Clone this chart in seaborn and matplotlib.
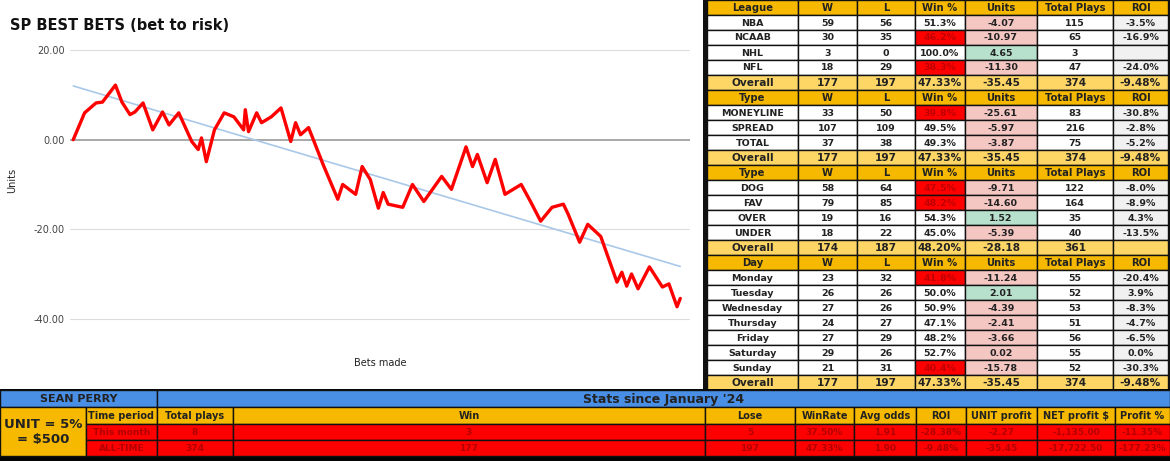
import numpy as np
import pandas as pd
import matplotlib
matplotlib.use("Agg")
import matplotlib.pyplot as plt
import seaborn as sns
from matplotlib.patches import Rectangle

sns.set_theme(style="white")
plt.rcParams['font.family'] = ['DejaVu Sans']

# ---- line data (cumulative units by bet number) ----
bet_idx = [0, 7, 14, 18, 26, 30, 35, 38, 43, 49, 55, 59, 65, 73, 77, 79, 82, 87, 93, 99, 105, 106, 108,
           113, 116, 122, 128, 134, 137, 140, 145, 154, 163, 166, 174, 178, 183, 188, 191, 194, 203, 209,
           216, 227, 233, 242, 246, 249, 255, 260, 266, 276, 282, 288, 295, 302, 305, 312, 317, 325, 335,
           338, 341, 344, 348, 355, 363, 367, 372, 374]
units = [0, 6.0, 8.2, 8.4, 12.2, 8.4, 5.6, 6.2, 8.2, 2.2, 6.2, 3.3, 6.0, -0.4, -2.2, 0.4, -4.9, 2.2, 6.0,
         5.1, 2.2, 6.7, 1.8, 6.0, 3.8, 5.1, 7.1, -0.4, 3.8, 1.1, 2.7, -5.6, -13.3, -10.0, -12.2, -6.0,
         -8.9, -15.3, -11.8, -14.4, -15.1, -10.0, -13.8, -8.2, -11.1, -1.6, -6.0, -3.3, -9.6, -4.4,
         -12.2, -10.0, -14.0, -18.2, -15.1, -14.4, -16.7, -22.9, -18.9, -21.6, -31.8, -29.6, -32.7,
         -30.0, -33.3, -28.4, -32.9, -32.2, -37.3, -35.45]
y_ticks = [20, 0, -20, -40]

# ---- right tables ----
col_hdr = ["W", "L", "Win %", "Units", "Total Plays", "ROI"]
sections = [
    ("League", ["NBA", "NCAAB", "NHL", "NFL"],
     [[59, 56, "51.3%", "-4.07", 115, "-3.5%"], [30, 35, "46.2%", "-10.97", 65, "-16.9%"],
      [3, 0, "100.0%", "4.65", 3, ""], [18, 29, "38.3%", "-11.30", 47, "-24.0%"]],
     [177, 197, "47.33%", "-35.45", 374, "-9.48%"], [False, True, False, True]),
    ("Type", ["MONEYLINE", "SPREAD", "TOTAL"],
     [[33, 50, "39.8%", "-25.61", 83, "-30.8%"], [107, 109, "49.5%", "-5.97", 216, "-2.8%"],
      [37, 38, "49.3%", "-3.87", 75, "-5.2%"]],
     [177, 197, "47.33%", "-35.45", 374, "-9.48%"], [True, False, False]),
    ("Type", ["DOG", "FAV", "OVER", "UNDER"],
     [[58, 64, "47.5%", "-9.71", 122, "-8.0%"], [79, 85, "48.2%", "-14.60", 164, "-8.9%"],
      [19, 16, "54.3%", "1.52", 35, "4.3%"], [18, 22, "45.0%", "-5.39", 40, "-13.5%"]],
     [174, 187, "48.20%", "-28.18", 361, ""], [True, True, False, False]),
    ("Day", ["Monday", "Tuesday", "Wednesday", "Thursday", "Friday", "Saturday", "Sunday"],
     [[23, 32, "41.8%", "-11.24", 55, "-20.4%"], [26, 26, "50.0%", "2.01", 52, "3.9%"],
      [27, 26, "50.9%", "-4.39", 53, "-8.3%"], [24, 27, "47.1%", "-2.41", 51, "-4.7%"],
      [27, 29, "48.2%", "-3.66", 56, "-6.5%"], [29, 26, "52.7%", "0.02", 55, "0.0%"],
      [21, 31, "40.4%", "-15.78", 52, "-30.3%"]],
     [177, 197, "47.33%", "-35.45", 374, "-9.48%"], [True, False, False, False, False, False, True]),
]

# ---- bottom table ----
bottom_hdr = ["Time period", "Total plays", "Win", "Lose", "WinRate", "Avg odds", "ROI",
              "UNIT profit", "NET profit $", "Profit %"]
bottom_rows = [["This month", "8", "3", "5", "37.50%", "1.91", "-28.38%", "-2.27", "-1,135.00", "-11.35%"],
               ["ALL-TIME", "374", "177", "197", "47.33%", "1.90", "-9.48%", "-35.45", "-17,722.50", "-177.23%"]]

W, H = 1170, 461
fig = plt.figure(figsize=(11.7, 4.61), dpi=100)

# ---- overlay for tables ----
ov = fig.add_axes([0, 0, 1, 1])
ov.set_xlim(0, W); ov.set_ylim(H, 0); ov.axis("off")

ORANGE = "#f6b900"; LIGHTY = "#fdd666"; PINK = "#f4c7c3"; GREEN = "#b7e1cd"; GRAYC = "#f1f1f1"
RED = "#ff0000"; BLUE = "#4a8fe6"

def cell(x0, y0, x1, y1, fc, txt="", size=6.8, color="#222", bold=True, ec="#111", lw=1.0):
    ov.add_patch(Rectangle((x0, y0), x1 - x0, y1 - y0, facecolor=fc, edgecolor=ec, lw=lw))
    if txt != "":
        ov.text((x0 + x1) / 2, (y0 + y1) / 2 + 0.5, str(txt), ha="center", va="center",
                fontsize=size, color=color, fontweight="bold" if bold else "normal")

ov.add_patch(Rectangle((703, 0), W - 703, 391, facecolor="#111", edgecolor="none"))
cx = [707, 798, 857, 915, 965, 1037, 1113, 1168]
rh = 15.0
r = 0
for title, names, rows, overall, redflag in sections:
    y0 = r * rh
    hdr = [title] + col_hdr
    for j in range(7):
        cell(cx[j], y0, cx[j + 1], y0 + rh, ORANGE, hdr[j], size=7.2)
    r += 1
    for name, vals, rf in zip(names, rows, redflag):
        y0 = r * rh
        cell(cx[0], y0, cx[1], y0 + rh, "white", name)
        for j, v in enumerate(vals):
            fc = "white"; tc = "#222"
            if j == 2 and rf:
                fc = RED; tc = "#c00000"
            if j == 3:
                fc = GREEN if float(v) > 0.5 else PINK
            if j == 5:
                fc = GRAYC
            cell(cx[j + 1], y0, cx[j + 2], y0 + rh, fc, v, color=tc)
        r += 1
    y0 = r * rh
    cell(cx[0], y0, cx[1], y0 + rh, LIGHTY, "Overall", size=7.6)
    for j, v in enumerate(overall):
        cell(cx[j + 1], y0, cx[j + 2], y0 + rh, LIGHTY, v, size=7.6)
    r += 1

# bottom block
ov.add_patch(Rectangle((0, 389), W, H - 389, facecolor="#050505", edgecolor="none"))
cell(0, 390, 157, 407, BLUE, "SEAN PERRY", size=8)
cell(157, 390, W, 407, BLUE, "Stats since January '24", size=9)
cell(0, 407, 86, 456, ORANGE, "UNIT = 5%\n= $500", size=9.5)
bx = [86, 157, 233, 705, 795, 854, 916, 966, 1037, 1115, W]
for j, h in enumerate(bottom_hdr):
    cell(bx[j], 407, bx[j + 1], 424, ORANGE, h, size=7)
for i, row in enumerate(bottom_rows):
    y0 = 424 + i * 16
    for j, v in enumerate(row):
        cell(bx[j], y0, bx[j + 1], y0 + 16, RED, v, size=6.5, color="#b30000")

# ---- chart ----
ax = fig.add_axes([70 / W, 1 - 330 / H, 620 / W, 300 / H])
df = pd.DataFrame({"bet": bet_idx, "units": units})
coef = np.polyfit(df["bet"], df["units"], 1)
tx = np.array([0, 374])
ax.plot(tx, np.polyval(coef, tx), color="#a9c8e8", lw=1.2, zorder=1)
sns.lineplot(data=df, x="bet", y="units", ax=ax, color="#ff0000", lw=2.4, zorder=3)
ax.set_xlim(-2, 380)
ax.set_ylim(-42.5, 24.5)
ax.set_yticks(y_ticks)
ax.set_yticklabels([f"{t:.2f}" for t in y_ticks], fontsize=7, color="#444")
ax.set_xticks([])
for t in y_ticks:
    ax.axhline(t, color="#999" if t == 0 else "#ddd", lw=1.2 if t == 0 else 0.8, zorder=0)
for s in ax.spines.values():
    s.set_visible(False)
ax.set_xlabel("Bets made", fontsize=7, color="#222", labelpad=20)
ax.set_ylabel("Units", fontsize=7, color="#222", labelpad=12)
ax.tick_params(axis="y", length=0, pad=4)
fig.text(10 / W, 1 - 25 / H, "SP BEST BETS (bet to risk)", fontsize=10.5, fontweight="bold",
         va="center", color="#111")

fig.savefig("out.png", dpi=100)
